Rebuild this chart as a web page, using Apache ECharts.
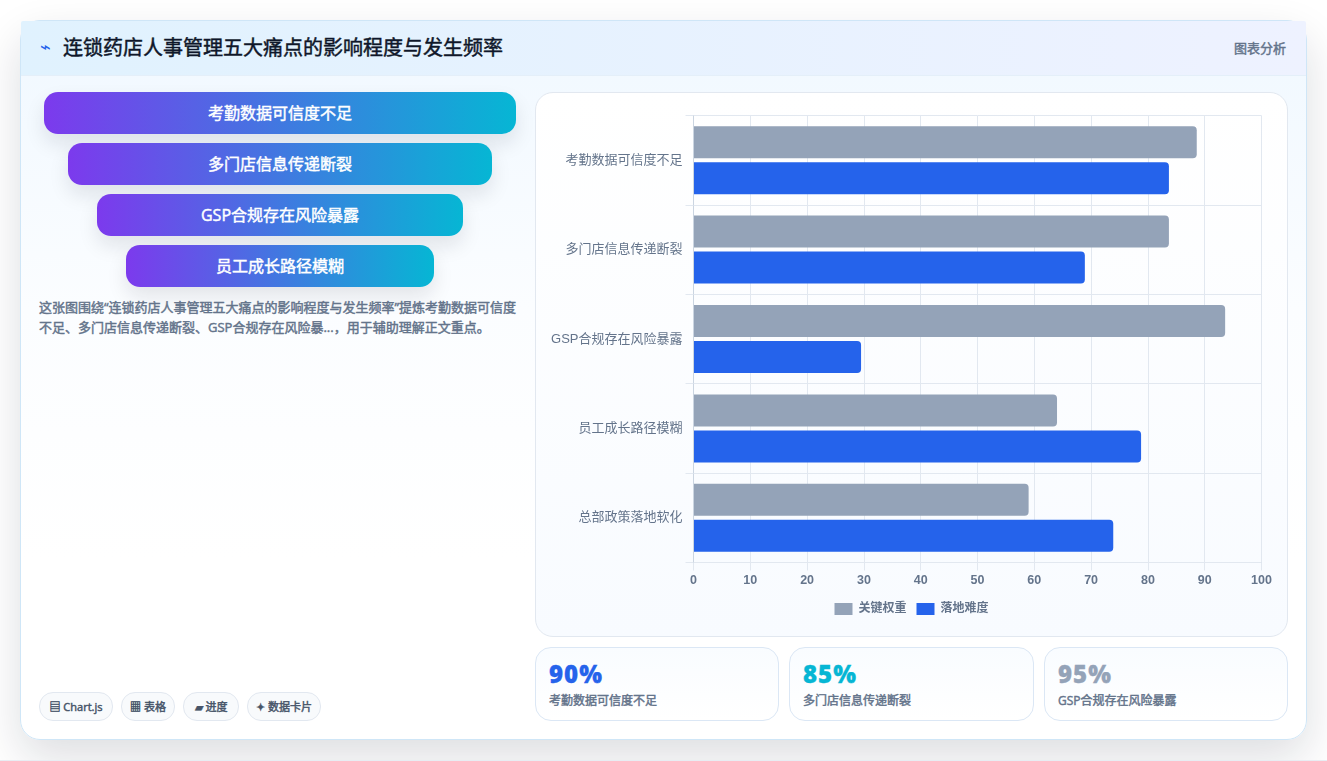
<!DOCTYPE html>
<html lang="zh">
<head>
<meta charset="utf-8">
<title>连锁药店人事管理五大痛点的影响程度与发生频率</title>
<script src="https://cdn.jsdelivr.net/npm/echarts@6/dist/echarts.min.js"></script>
<style>
  html, body { margin: 0; padding: 0; width: 1327px; height: 761px; overflow: hidden; background: #fff;
    font-family: "Open Sans", "Noto Sans CJK SC", sans-serif; }
  .heavy { font-weight: 400; -webkit-text-stroke: .45px currentColor; }
  .card { position: absolute; left: 20px; top: 20px; width: 1285px; height: 718px; border: 1px solid #cfe6f7;
    border-radius: 20px; background: linear-gradient(180deg, #f0f8ff 0%, #fbfdff 40%, #ffffff 75%);
    box-shadow: 0 18px 45px rgba(15, 23, 42, .14); }
  .head { position: absolute; left: 0; top: 0; width: 1285px; height: 54px; border-bottom: 1px solid #e4eff9;
    border-radius: 2px 2px 0 0; background: linear-gradient(90deg, #e0f2fe, #eef2ff); }
  .bolt { position: absolute; left: 19px; top: 14px; font: 400 18px/24px "DejaVu Sans"; color: #2563eb; }
  .title { position: absolute; left: 42px; top: 12px; font-size: 20px; line-height: 30px; color: #0f172a; }
  .tag { position: absolute; right: 20px; top: 17px; font-size: 13px; line-height: 20px; color: #64748b; }
  .pill { position: absolute; height: 42px; line-height: 43px; border-radius: 14px; text-align: center; color: #fff;
    font-size: 16px; background: linear-gradient(90deg, #7c3aed, #06b6d4);
    box-shadow: 0 10px 20px rgba(15, 23, 42, .10); }
  .desc { position: absolute; left: 39px; top: 297px; width: 484px; font-size: 13px; line-height: 20px; color: #64748b; }
  .chip { position: absolute; top: 692px; height: 27px; line-height: 27px; border: 1px solid #e2e8f0; border-radius: 14px;
    background: #f8fafc; text-align: center; font-size: 11px; color: #475569; }
  .panel { position: absolute; left: 535px; top: 92px; width: 751px; height: 543px; border: 1px solid #e2e8f0;
    border-radius: 18px; background: linear-gradient(180deg, #ffffff, #f8fbff); }
  #chart { position: absolute; left: 0; top: 0; width: 751px; height: 543px; }
  .stat { position: absolute; top: 647px; height: 72px; border: 1px solid #dbe7f5; border-radius: 16px;
    background: linear-gradient(180deg, #f9fcff, #ffffff); }
  .stat b { position: absolute; left: 13px; top: 8px; font-size: 24px; font-weight: 800; line-height: 36px;
    -webkit-text-stroke: .3px currentColor; letter-spacing: 1px; }
  .stat span { position: absolute; left: 13px; top: 44px; font-size: 12px; line-height: 18px; color: #64748b; }
  .edge { position: absolute; left: 0; top: 760px; width: 1327px; height: 1px; background: #e8edf3; }
</style>
</head>
<body>
<div class="card">
  <div class="head">
    <div class="bolt">⌁</div>
    <div class="title heavy" id="title"></div>
    <div class="tag heavy">图表分析</div>
  </div>
</div>
<div class="edge"></div>
<div id="left"></div>
<div class="desc heavy" id="desc"></div>
<div class="panel"><div id="chart"></div></div>
<div id="bottom"></div>
<script>
// Chart content
const chartTitle = '连锁药店人事管理五大痛点的影响程度与发生频率';
const summary = '这张图围绕“连锁药店人事管理五大痛点的影响程度与发生频率”提炼考勤数据可信度不足、多门店信息传递断裂、GSP合规存在风险暴...，用于辅助理解正文重点。';
const categories = ['考勤数据可信度不足', '多门店信息传递断裂', 'GSP合规存在风险暴露', '员工成长路径模糊', '总部政策落地软化'];
const keyWeight = [88.6, 83.7, 93.6, 64, 59];
const difficulty = [83.7, 68.9, 29.5, 78.8, 73.9];
const xTicks = { min: 0, max: 100, interval: 10 };

// Funnel steps shown on the left
const funnelSteps = categories.slice(0, 4);
const funnelBoxes = [[44, 472, 92], [68, 424, 143], [97, 366, 194], [126, 308, 245]];

// Footer chips and stat cards
const chips = [['▤ Chart.js', 39, 72], ['▦ 表格', 121, 52], ['▰ 进度', 183, 54], ['✦ 数据卡片', 247, 72]];
const statValues = ['90%', '85%', '95%'];
const statColors = ['#2563eb', '#06b6d4', '#94a3b8'];
const statBoxes = [[535, 242], [789, 243], [1044, 242]];

document.getElementById('title').textContent = chartTitle;
document.getElementById('desc').textContent = summary;

const left = document.getElementById('left');
funnelSteps.forEach((name, i) => {
  const el = document.createElement('div');
  el.className = 'pill heavy';
  const [x, w, y] = funnelBoxes[i];
  el.style.cssText = `left:${x}px;width:${w}px;top:${y}px`;
  el.textContent = name;
  left.appendChild(el);
});

const bottom = document.getElementById('bottom');
chips.forEach(([text, x, w]) => {
  const el = document.createElement('div');
  el.className = 'chip heavy';
  el.style.cssText = `left:${x}px;width:${w}px`;
  el.textContent = text;
  bottom.appendChild(el);
});
statValues.forEach((v, i) => {
  const el = document.createElement('div');
  el.className = 'stat';
  el.style.cssText = `left:${statBoxes[i][0]}px;width:${statBoxes[i][1]}px`;
  el.innerHTML = `<b style="color:${statColors[i]}">${v}</b><span class="heavy">${categories[i]}</span>`;
  bottom.appendChild(el);
});

// Horizontal grouped bars
const chart = echarts.init(document.getElementById('chart'), null, { renderer: 'canvas' });
const latin = '"Liberation Sans", "Noto Sans CJK SC", sans-serif';
const barRadius = [0, 4, 4, 0];
chart.setOption({
  animation: false,
  grid: { left: 157.5, right: 25.5, top: 22.5, bottom: 73.5, containLabel: false },
  legend: {
    top: 505,
    left: 'center',
    itemWidth: 18,
    itemHeight: 12,
    itemGap: 10,
    icon: 'rect',
    textStyle: { fontFamily: latin, fontSize: 12, fontWeight: 'bold', color: '#64748b', padding: [0, 0, 0, 1] },
    data: ['关键权重', '落地难度']
  },
  xAxis: {
    type: 'value',
    min: xTicks.min,
    max: xTicks.max,
    interval: xTicks.interval,
    axisLine: { show: true, lineStyle: { color: '#cbd5e1', width: 1 } },
    axisTick: { show: true, length: 8, lineStyle: { color: '#e2e8f0' } },
    splitLine: { show: true, lineStyle: { color: '#e2e8f0', width: 1 } },
    axisLabel: { margin: 12, fontFamily: latin, fontSize: 12.5, fontWeight: 'bold', color: '#64748b' }
  },
  yAxis: {
    type: 'category',
    inverse: true,
    data: categories,
    z: 3,
    axisLine: { show: true, onZero: false, lineStyle: { color: '#cbd5e1', width: 1 } },
    axisTick: { show: true, length: 8, lineStyle: { color: '#e2e8f0' } },
    splitLine: { show: true, lineStyle: { color: '#e2e8f0', width: 1 } },
    axisLabel: { margin: 11, fontFamily: latin, fontSize: 13, color: '#64748b' }
  },
  series: [
    { name: '关键权重', type: 'bar', data: keyWeight, barWidth: 32, barGap: '12.5%',
      itemStyle: { color: '#94a3b8', borderRadius: barRadius } },
    { name: '落地难度', type: 'bar', data: difficulty, barWidth: 32,
      itemStyle: { color: '#2563eb', borderRadius: barRadius } }
  ]
});
</script>
</body>
</html>
